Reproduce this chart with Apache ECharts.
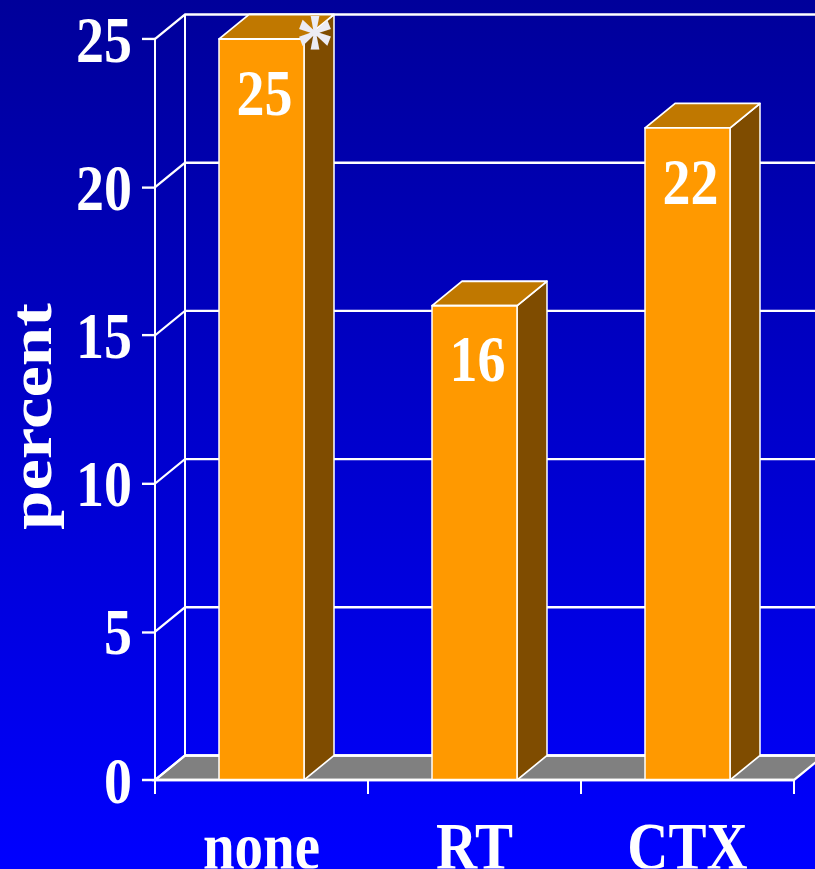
<!DOCTYPE html>
<html>
<head>
<meta charset="utf-8">
<title>percent by treatment</title>
<script src="https://cdn.jsdelivr.net/npm/echarts@6/dist/echarts.min.js"></script>
<style>
  html, body { margin: 0; padding: 0; background: #0000ff; }
  #frame { position: relative; width: 815px; height: 869px; overflow: visible; }
  #chart { position: absolute; left: 0; top: 0; width: 815px; transform-origin: 0 0; }
</style>
</head>
<body>
<div id="frame"><div id="chart"></div></div>
<script>
// Data
const categories = ['none', 'RT', 'CTX'];
const percentValues = [25, 16, 22];
const significance = ['*', '', ''];
const yTicks = [0, 5, 10, 15, 20, 25];

// The slide artwork is taller than its type: draw in a compressed box, stretch it vertically.
const SY = 1.18;
const W = 815, H = 869 / SY;
const el = document.getElementById('chart');
el.style.height = H + 'px';
el.style.transform = 'scaleY(' + SY + ')';

const DX = 30;          // depth offset of the back wall, horizontal
const DY = 24.5 / SY;   // depth offset of the back wall, vertical
const BAR_W = 85;
const SERIF = "'Liberation Serif', 'Times New Roman', serif";
const LINE = '#ffffff';

function wallItem(params, api) {
  const v = api.value(1);
  const cs = params.coordSys;
  const y = api.coord([0, v])[1];
  const x0 = cs.x;
  const children = [];
  if (v === 0) {
    const yTop = api.coord([0, yTicks[yTicks.length - 1]])[1];
    // back vertical of the wall
    children.push({ type: 'line', shape: { x1: x0 + DX, y1: yTop - DY, x2: x0 + DX, y2: y - DY },
      style: { stroke: LINE, lineWidth: 2 } });
    // floor
    children.push({ type: 'polygon', shape: { points: [
      [x0, y], [x0 + cs.width, y], [x0 + cs.width + DX, y - DY], [x0 + DX, y - DY]] },
      style: { fill: '#808080', stroke: LINE, lineWidth: 2 } });
  }
  // connector from the front axis to the wall and the gridline on the wall
  children.push({ type: 'polyline', shape: { points: [[x0, y], [x0 + DX, y - DY], [W + 20, y - DY]] },
    style: { stroke: LINE, lineWidth: 2, fill: null } });
  return { type: 'group', children: children };
}

function barItem(params, api) {
  const idx = api.value(0);
  const v = api.value(1);
  const top = api.coord([idx, v]);
  const base = api.coord([idx, 0]);
  const x0 = top[0] - BAR_W / 2, x1 = x0 + BAR_W;
  const yt = top[1], yb = base[1];
  const edge = { stroke: LINE, lineWidth: 1.5, lineJoin: 'round' };
  const children = [
    { type: 'polygon', shape: { points: [[x1, yt], [x1 + DX, yt - DY], [x1 + DX, yb - DY], [x1, yb]] },
      style: Object.assign({ fill: '#7f4c00' }, edge) },
    { type: 'polygon', shape: { points: [[x0, yt], [x1, yt], [x1 + DX, yt - DY], [x0 + DX, yt - DY]] },
      style: Object.assign({ fill: '#c07800' }, edge) },
    { type: 'rect', shape: { x: x0, y: yt, width: BAR_W, height: yb - yt },
      style: Object.assign({ fill: '#ff9900' }, edge) },
    { type: 'text', x: top[0] + 3, y: yt + 53 / SY,
      style: { text: String(v), fill: '#ffffff', font: 'bold 56px ' + SERIF,
        align: 'center', verticalAlign: 'middle' } }
  ];
  const mark = significance[idx];
  if (mark) {
    children.push({ type: 'text', x: x1 + 11, y: yt - 11 / SY + 13,
      style: { text: mark, fill: '#ececf4', font: 'bold 76px ' + SERIF,
        align: 'center', verticalAlign: 'middle' } });
  }
  return { type: 'group', children: children };
}

const chart = echarts.init(el, null, { renderer: 'svg', width: W, height: H });
chart.setOption({
  animation: false,
  backgroundColor: {
    type: 'linear', x: 0, y: 0, x2: 0, y2: 1,
    colorStops: [{ offset: 0, color: '#00009a' }, { offset: 1, color: '#0000ff' }]
  },
  grid: { left: 155, right: W - 794, top: 39 / SY, bottom: (869 - 780) / SY,
    containLabel: false, outerBoundsMode: 'none' },
  xAxis: {
    type: 'category',
    data: categories,
    z: 5,
    axisLine: { show: true, lineStyle: { color: LINE, width: 2 } },
    axisTick: { show: true, length: 14 / SY, lineStyle: { color: LINE, width: 2 } },
    axisLabel: { color: '#ffffff', fontFamily: SERIF, fontWeight: 'bold', fontSize: 57, margin: 27 },
    splitLine: { show: false }
  },
  yAxis: {
    type: 'value',
    min: 0, max: 25, interval: 5,
    z: 5,
    name: 'percent',
    nameLocation: 'middle',
    nameRotate: 90,
    nameGap: 94,
    nameTextStyle: { color: '#ffffff', fontFamily: SERIF, fontWeight: 'bold', fontSize: 60,
      padding: [0, 12, 0, 0] },
    axisLine: { show: true, lineStyle: { color: LINE, width: 2 } },
    axisTick: { show: true, length: 13, lineStyle: { color: LINE, width: 2 } },
    axisLabel: { color: '#ffffff', fontFamily: SERIF, fontWeight: 'bold', fontSize: 56, margin: 23 },
    splitLine: { show: false }
  },
  series: [
    {
      type: 'custom', name: 'wall', z: 1, silent: true,
      renderItem: wallItem,
      encode: { x: 0, y: 1 },
      data: yTicks.map(function (t) { return [0, t]; })
    },
    {
      type: 'custom', name: 'percent', z: 3,
      renderItem: barItem,
      encode: { x: 0, y: 1 },
      data: percentValues.map(function (v, i) { return [i, v]; })
    }
  ]
});
</script>
</body>
</html>
